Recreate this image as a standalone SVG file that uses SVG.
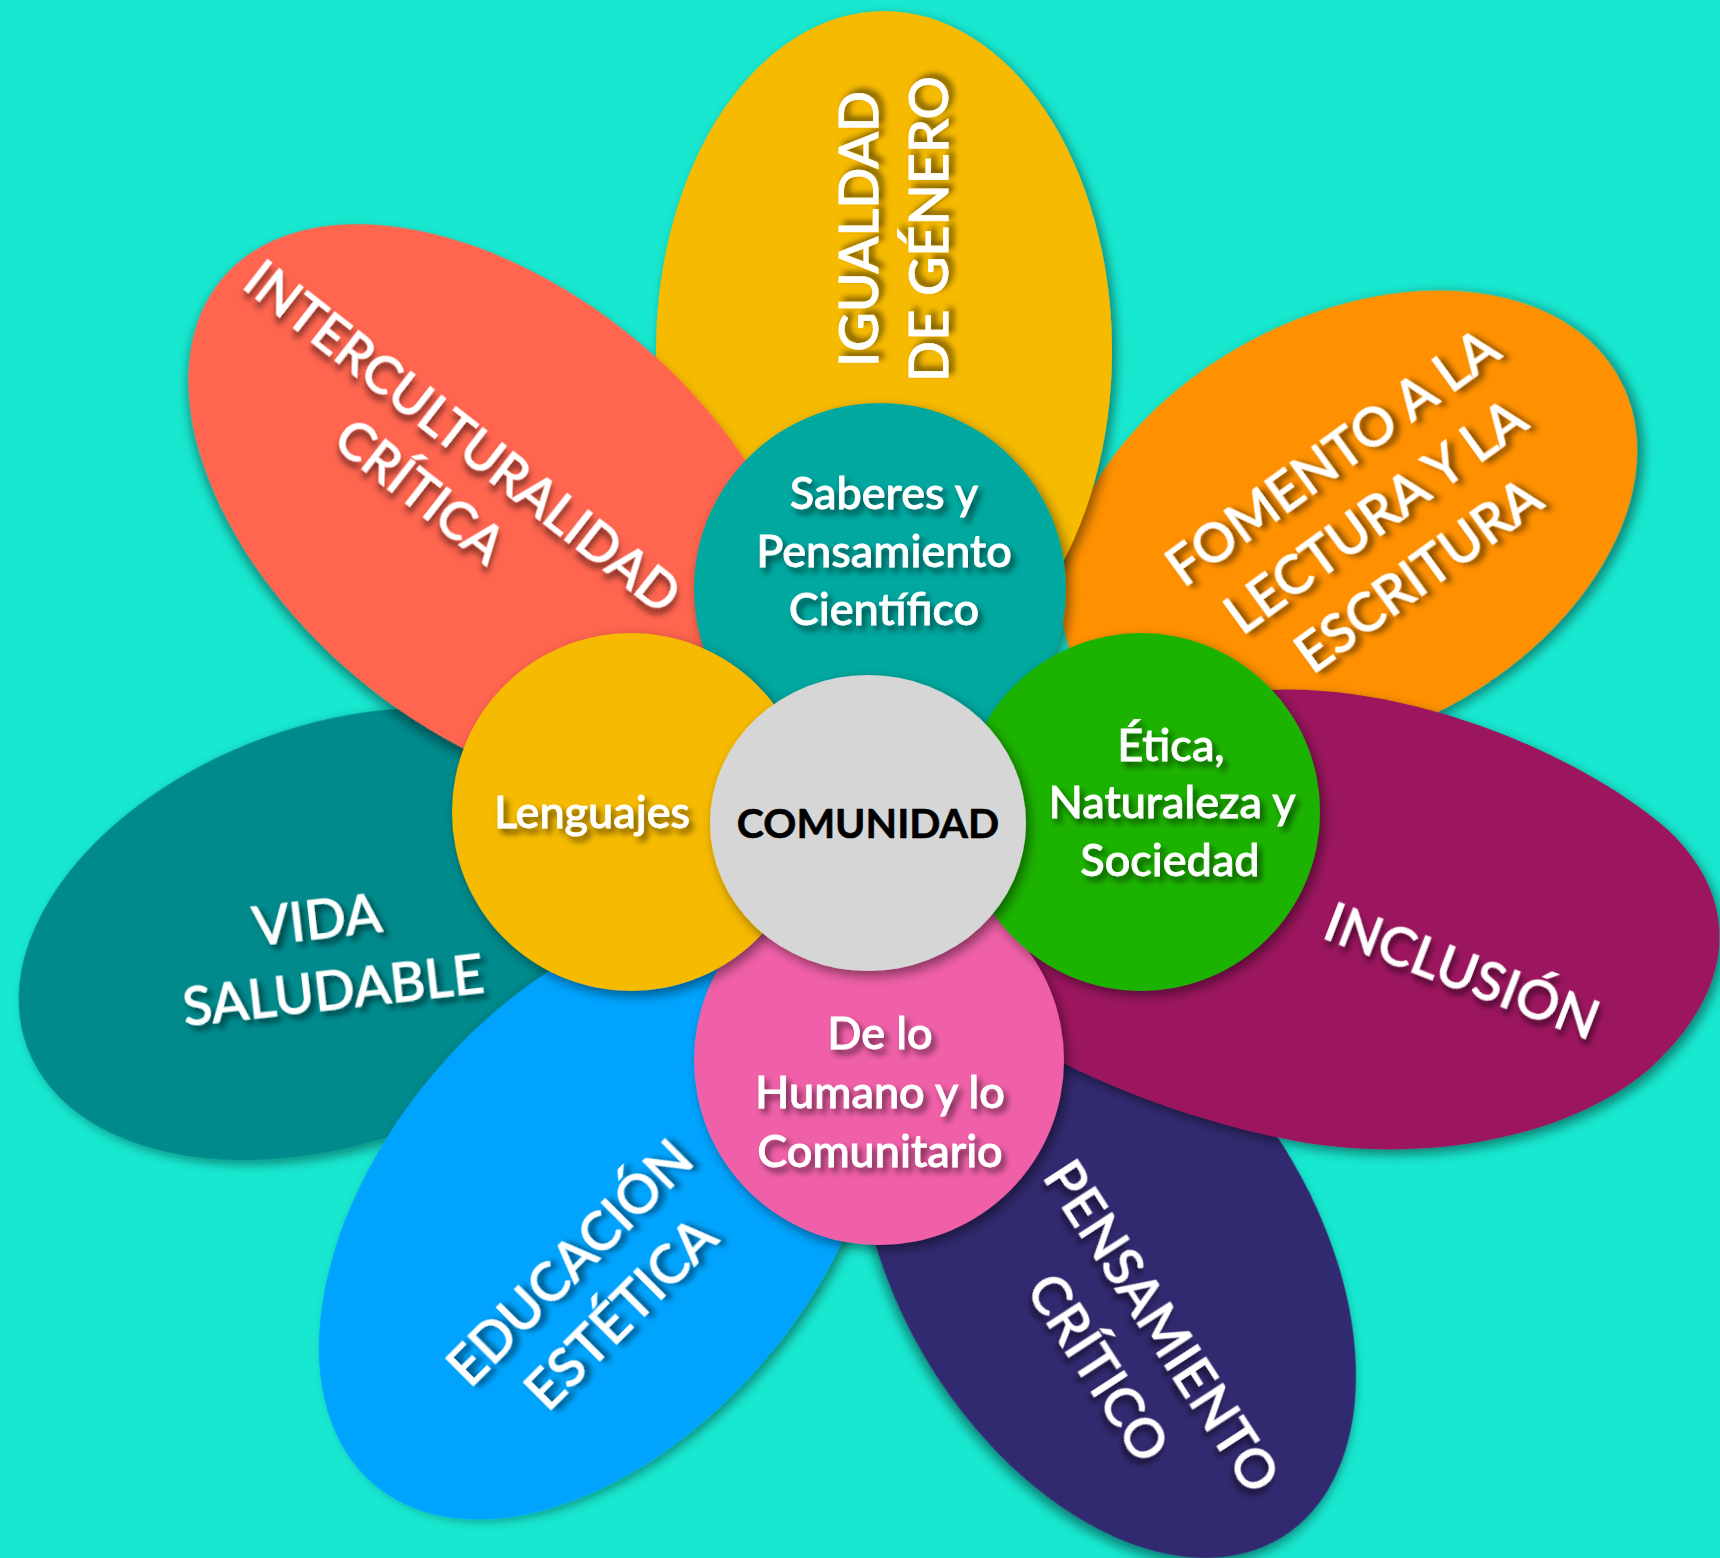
<svg xmlns="http://www.w3.org/2000/svg" width="1720" height="1558" viewBox="0 0 1720 1558">
  <defs>
    <filter id="shapeShadow" x="-20%" y="-20%" width="140%" height="140%">
      <feDropShadow dx="4" dy="5" stdDeviation="6" flood-color="#000" flood-opacity="0.45"/>
    </filter>
    <filter id="textShadow" x="-20%" y="-40%" width="140%" height="180%">
      <feDropShadow dx="4" dy="5" stdDeviation="3" flood-color="#000" flood-opacity="0.55"/>
    </filter>
  </defs>
  <style>
    .petal { filter: url(#shapeShadow); }
    .ptxt { font-family: Lato, "Noto Sans", sans-serif; font-size: 54px; font-weight: 500; fill: #fff; stroke: #fff; stroke-width: 0.8px; text-anchor: middle; filter: url(#textShadow); }
    .ctxt { font-family: Lato, "Noto Sans", sans-serif; font-size: 45px; font-weight: 500; fill: #fff; stroke: #fff; stroke-width: 0.8px; text-anchor: middle; filter: url(#textShadow); }
    .core { font-family: Lato, "Noto Sans", sans-serif; font-size: 41px; font-weight: 700; fill: #000; stroke: #000; stroke-width: 0.6px; text-anchor: middle; }
  </style>
  <rect width="1720" height="1558" fill="#18E8D0"/>
  <g id="connectors"/>

  <g id="petal-fomento">
    <ellipse class="petal" cx="1349" cy="524" rx="307" ry="208" transform="rotate(-28 1349 524)" fill="#FF9100"/>
    <g transform="translate(1375 516) rotate(-36)">
      <text class="ptxt" x="0" y="-54">FOMENTO A LA</text>
      <text class="ptxt" x="0" y="19">LECTURA Y LA</text>
      <text class="ptxt" x="0" y="92">ESCRITURA</text>
    </g>
  </g>

  <g id="petal-vida">
    <ellipse class="petal" cx="336" cy="934" rx="329" ry="209" transform="rotate(-20 336 934)" fill="#018A8C"/>
    <g transform="translate(325 955) rotate(-6.5)">
      <text class="ptxt" x="-4" y="-17">VIDA</text>
      <text class="ptxt" x="4" y="55">SALUDABLE</text>
    </g>
  </g>

  <g id="petal-educacion">
    <ellipse class="petal" cx="600" cy="1216" rx="351" ry="219" transform="rotate(-50 600 1216)" fill="#00A4FF"/>
    <g transform="translate(595 1288) rotate(-45)">
      <text class="ptxt" x="0" y="-17">EDUCACIÓN</text>
      <text class="ptxt" x="0" y="55">ESTÉTICA</text>
    </g>
  </g>

  <g id="petal-pensamiento">
    <ellipse class="petal" cx="1108" cy="1258" rx="329" ry="208" transform="rotate(58 1108 1258)" fill="#302A70"/>
    <g transform="translate(1130 1347) rotate(57)">
      <text class="ptxt" x="0" y="-19">PENSAMIENTO</text>
      <text class="ptxt" x="0" y="57">CRÍTICO</text>
    </g>
  </g>

  <g id="petal-igualdad">
    <ellipse class="petal" cx="884" cy="351" rx="228" ry="340" fill="#F6BA00"/>
    <g transform="translate(893 229) rotate(-90)">
      <text class="ptxt" x="0" y="-15">IGUALDAD</text>
      <text class="ptxt" x="0" y="55">DE GÉNERO</text>
    </g>
  </g>

  <g id="petal-inclusion">
    <path class="petal" d="M 1000 800 L 1200 700 C 1350 660 1565 740 1668 830 C 1742 900 1737 990 1648 1070 C 1565 1140 1420 1165 1290 1140 C 1180 1118 1090 1080 1020 1040 Z" fill="#9C185E"/>
    <g transform="translate(1462 971) rotate(21)">
      <text class="ptxt" x="0" y="19">INCLUSIÓN</text>
    </g>
  </g>

  <g id="petal-interculturalidad">
    <ellipse class="petal" cx="498" cy="510" rx="360" ry="219" transform="rotate(40 498 510)" fill="#FF6550"/>
    <g transform="translate(442 463) rotate(38)">
      <text class="ptxt" x="0" y="-15" style="font-size:52px">INTERCULTURALIDAD</text>
      <text class="ptxt" x="0" y="54" style="font-size:52px">CRÍTICA</text>
    </g>
  </g>

  <g id="campo-saberes">
    <circle class="petal" cx="880" cy="589" r="186" fill="#00A89F"/>
    <text class="ctxt" x="884" y="509">Saberes y</text>
    <text class="ctxt" x="884" y="567">Pensamiento</text>
    <text class="ctxt" x="884" y="625">Científico</text>
  </g>

  <g id="campo-humano">
    <circle class="petal" cx="879" cy="1060" r="185" fill="#F060A8"/>
    <text class="ctxt" x="880" y="1049">De lo</text>
    <text class="ctxt" x="880" y="1108">Humano y lo</text>
    <text class="ctxt" x="880" y="1167">Comunitario</text>
  </g>

  <g id="campo-lenguajes">
    <circle class="petal" cx="631" cy="812" r="179" fill="#F6BA00"/>
    <text class="ctxt" x="592" y="828">Lenguajes</text>
  </g>

  <g id="campo-etica">
    <circle class="petal" cx="1141" cy="812" r="179" fill="#1FB300"/>
    <text class="ctxt" x="1171" y="761">Ética,</text>
    <text class="ctxt" x="1172" y="818">Naturaleza y</text>
    <text class="ctxt" x="1170" y="876">Sociedad</text>
  </g>

  <g id="comunidad">
    <ellipse class="petal" cx="868" cy="823" rx="158" ry="148" fill="#D6D6D6"/>
    <text class="core" x="868" y="838">COMUNIDAD</text>
  </g>
</svg>
